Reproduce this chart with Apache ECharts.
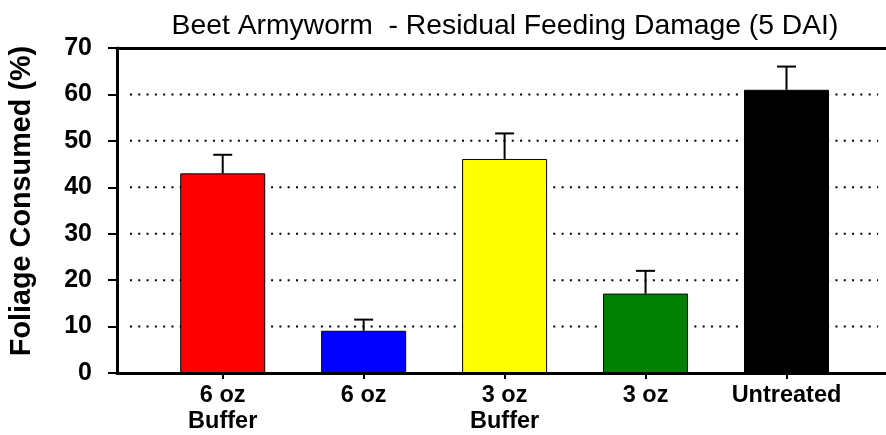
<!DOCTYPE html>
<html>
<head>
<meta charset="utf-8">
<script src="https://cdn.jsdelivr.net/npm/echarts@6/dist/echarts.min.js"></script>
<style>
  html, body { margin: 0; padding: 0; background: #fff; }
  #chart { width: 886px; height: 435px; }
</style>
</head>
<body>
<div id="chart"></div>
<script>
  // data
  var categories = ['6 oz\nBuffer', '6 oz', '3 oz\nBuffer', '3 oz', 'Untreated'];
  var meanValues = [43, 9.1, 46.1, 17.1, 61];
  var errValues = [4, 2.4, 5.5, 4.9, 5];
  var barColors = ['#ff0000', '#0000ff', '#ffff00', '#008000', '#000000'];
  var gridValues = [10, 20, 30, 40, 50, 60];

  var positions = categories.map(function (c, i) { return i; });

  var barData = meanValues.map(function (v, i) {
    return {
      value: [i, v],
      itemStyle: { color: barColors[i], borderColor: '#000', borderWidth: 1 }
    };
  });
  var errData = meanValues.map(function (v, i) {
    return [i, v, v + errValues[i]];
  });

  var chart = echarts.init(document.getElementById('chart'));
  var font = 'Liberation Sans, Arial, Helvetica, sans-serif';
  var xMin = -0.75, xMax = 4.706;

  var option = {
    animation: false,
    title: {
      text: 'Beet Armyworm  - Residual Feeding Damage (5 DAI)',
      left: 500,
      textAlign: 'center',
      top: 7,
      textStyle: { fontFamily: font, fontWeight: 'normal', fontSize: 28.3, color: '#000' }
    },
    graphic: [{
      type: 'text',
      x: 22,
      y: 201,
      rotation: Math.PI / 2,
      style: {
        text: 'Foliage Consumed (%)',
        font: 'bold 28.8px ' + font,
        fill: '#000',
        align: 'center',
        verticalAlign: 'middle'
      }
    }],
    grid: { left: 117, right: 0, top: 48, bottom: 62 },
    xAxis: [
      {
        type: 'value',
        min: xMin,
        max: xMax,
        position: 'bottom',
        axisLine: { show: true, onZero: false, lineStyle: { color: '#000', width: 3 } },
        axisTick: { show: true, customValues: positions, length: 6, lineStyle: { color: '#000', width: 2 } },
        axisLabel: {
          customValues: positions,
          margin: 10,
          fontFamily: font, fontWeight: 'bold', fontSize: 23.5, color: '#000', lineHeight: 25.5,
          formatter: function (v) { return categories[Math.round(v)]; }
        },
        splitLine: { show: false }
      },
      {
        type: 'value',
        min: xMin,
        max: xMax,
        position: 'top',
        axisLine: { show: true, onZero: false, lineStyle: { color: '#000', width: 3 } },
        axisTick: { show: false },
        axisLabel: { show: false },
        splitLine: { show: false }
      }
    ],
    yAxis: {
      type: 'value',
      min: 0,
      max: 70,
      interval: 10,
      axisLine: { show: true, onZero: false, lineStyle: { color: '#000', width: 3 } },
      axisTick: { show: true, length: 9, lineStyle: { color: '#000', width: 2 } },
      axisLabel: {
        margin: 25,
        fontFamily: font, fontWeight: 'bold', fontSize: 25, color: '#000'
      },
      splitLine: { show: false }
    },
    series: [
      {
        // dotted grid lines, starting a little right of the y axis
        type: 'custom',
        data: gridValues,
        z: 1,
        silent: true,
        renderItem: function (params, api) {
          var y = api.value(0);
          var a = api.coord([-0.658, y]);
          var b = api.coord([4.65, y]);
          return {
            type: 'line',
            shape: { x1: a[0], y1: a[1], x2: b[0], y2: b[1] },
            style: { stroke: '#000', lineWidth: 2, lineDash: [2, 6.3] }
          };
        }
      },
      {
        type: 'bar',
        barWidth: 85,
        data: barData,
        z: 3
      },
      {
        type: 'custom',
        data: errData,
        z: 4,
        renderItem: function (params, api) {
          var x = api.value(0);
          var base = api.coord([x, api.value(1)]);
          var top = api.coord([x, api.value(2)]);
          var half = 9.5;
          return {
            type: 'group',
            children: [
              { type: 'line', shape: { x1: base[0], y1: base[1], x2: top[0], y2: top[1] },
                style: { stroke: '#000', lineWidth: 2 } },
              { type: 'line', shape: { x1: top[0] - half, y1: top[1], x2: top[0] + half, y2: top[1] },
                style: { stroke: '#000', lineWidth: 2 } }
            ]
          };
        }
      }
    ]
  };
  chart.setOption(option);
</script>
</body>
</html>
